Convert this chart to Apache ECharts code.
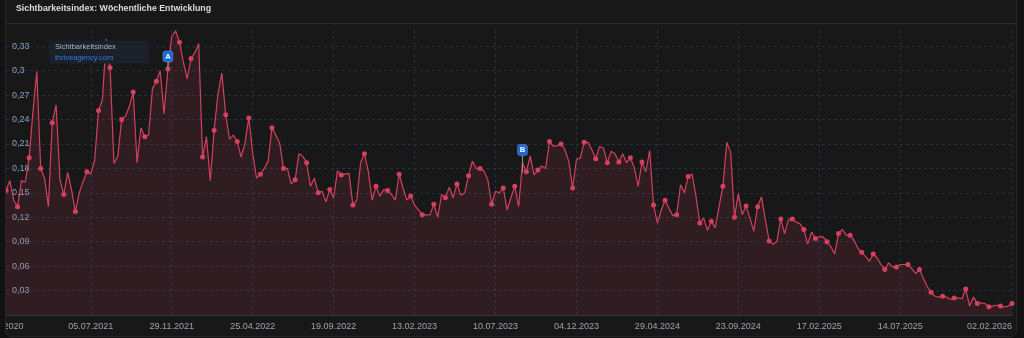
<!DOCTYPE html>
<html><head><meta charset="utf-8">
<script src="https://cdn.jsdelivr.net/npm/echarts@6/dist/echarts.min.js"></script>
<style>
html,body{margin:0;padding:0;background:#121212;width:1024px;height:338px;overflow:hidden;}
#panel{position:absolute;left:5px;top:-6px;width:1010px;height:341px;border:1px solid #262626;border-radius:6px;background:#181818;overflow:hidden;}
#chart{width:1010px;height:341px;}
</style></head><body><div id="panel"><div id="chart"></div></div>
<script>
// ---- data ----
const firstCategory = '28.12.2020';
const weeklyStart = '2021-02-08';
const seg2021 = [0.153,0.165,0.141,0.133,0.165,0.163,0.193,0.25,0.299,0.180,0.168,0.133,0.236,0.258,0.166,0.148,0.175,0.154,0.127,0.150,0.164,0.176,0.173,0.190,0.251,0.264,0.339,0.304,0.186,0.195,0.240,0.244,0.256,0.274,0.187,0.230,0.219,0.221,0.278,0.287,0.300,0.247,0.302,0.342,0.349,0.335,0.311,0.290];
const seg2022 = [0.315,0.322,0.333,0.194,0.219,0.165,0.227,0.272,0.297,0.246,0.216,0.221,0.213,0.194,0.211,0.242,0.199,0.168,0.173,0.180,0.189,0.230,0.221,0.211,0.180,0.180,0.161,0.166,0.198,0.195,0.187,0.158,0.168,0.150,0.152,0.139,0.154,0.144,0.177,0.172,0.173,0.174,0.135,0.141,0.187,0.198,0.176,0.141,0.158,0.146,0.154,0.153];
const seg2023 = [0.148,0.141,0.173,0.156,0.141,0.146,0.135,0.129,0.123,0.123,0.123,0.136,0.120,0.148,0.144,0.157,0.144,0.161,0.147,0.150,0.171,0.189,0.180,0.180,0.177,0.166,0.136,0.152,0.150,0.156,0.129,0.144,0.158,0.133,0.187,0.176,0.195,0.172,0.178,0.183,0.180,0.213,0.207,0.208,0.210,0.203,0.189,0.156,0.191,0.193,0.212,0.212];
const seg2024 = [0.203,0.192,0.207,0.205,0.187,0.201,0.198,0.188,0.198,0.187,0.193,0.181,0.158,0.188,0.176,0.202,0.135,0.113,0.129,0.141,0.131,0.122,0.123,0.160,0.150,0.170,0.173,0.146,0.113,0.119,0.104,0.115,0.107,0.133,0.158,0.212,0.200,0.120,0.149,0.123,0.134,0.119,0.103,0.133,0.145,0.117,0.091,0.087,0.090,0.118,0.100,0.117,0.118];
const seg2025 = [0.114,0.112,0.105,0.087,0.102,0.094,0.096,0.096,0.090,0.084,0.075,0.100,0.105,0.098,0.098,0.092,0.082,0.077,0.072,0.066,0.075,0.070,0.062,0.056,0.064,0.059,0.059,0.062,0.062,0.062,0.057,0.051,0.056,0.045,0.035,0.028,0.023,0.022,0.023,0.022,0.019,0.021,0.021,0.020,0.032,0.011,0.022,0.014,0.015,0.014,0.010,0.011];
const seg2026 = [0.012,0.011,0.010,0.011,0.014];
const tickLabels = ['28.12.2020','05.07.2021','29.11.2021','25.04.2022','19.09.2022','13.02.2023','10.07.2023','04.12.2023','29.04.2024','23.09.2024','17.02.2025','14.07.2025','02.02.2026'];
const markers = [{name:'A', index:42, value:0.302}, {name:'B', index:134, value:0.175}];
const seriesName = 'Sichtbarkeitsindex';
const sourceName = 'thriveagency.com';
const titleText = 'Sichtbarkeitsindex: Wöchentliche Entwicklung';

// ---- build ----
const values = [].concat(seg2021, seg2022, seg2023, seg2024, seg2025, seg2026);
function fmt(d){const p=n=>String(n).padStart(2,'0');return p(d.getUTCDate())+'.'+p(d.getUTCMonth()+1)+'.'+d.getUTCFullYear();}
const categories = [firstCategory];
const start = new Date(weeklyStart+'T00:00:00Z');
for (let i = 1; i < values.length; i++) {
  categories.push(fmt(new Date(start.getTime() + (i-1)*7*86400000)));
}
const labelIdx = tickLabels.map(t => categories.indexOf(t));
const poleLen = {A:7, B:17};
const lineColor = '#d4405e';
const gridColor = '#22314b';
const FONT = 'Liberation Sans, Arial, sans-serif';

const mpData = [];
markers.forEach(m => {
  const L = poleLen[m.name];
  mpData.push({name:'', coord:[m.index, m.value], symbol:'rect', symbolSize:[1, L], symbolOffset:[0, -L/2],
    itemStyle:{color:'#8d939c'}, label:{show:false}});
  mpData.push({name:m.name, coord:[m.index, m.value], symbol:'roundRect', symbolSize:[10, 11], symbolOffset:[0, -(L+5.5)],
    itemStyle:{color:'#1a68d6', borderColor:'rgba(150,190,255,0.5)', borderWidth:0.6},
    label:{show:true, position:'inside', formatter:m.name, color:'#ffffff', fontSize:7.5, fontWeight:'bold', fontFamily:FONT}});
});

const chart = echarts.init(document.getElementById('chart'), null, {renderer:'canvas'});
chart.setOption({
  animation:false,
  backgroundColor:'transparent',
  textStyle:{fontFamily:FONT},
  title:[
    {text:titleText, left:10, top:9, textStyle:{color:'#dcdcdc', fontSize:8.8, fontWeight:'bold', fontFamily:FONT}, padding:0},
    {text:'{a|'+seriesName+'}\n{b|'+sourceName+'}', left:43, top:44, padding:[2,33,2,6], backgroundColor:'#1b202b',
      textStyle:{fontWeight:'normal', rich:{a:{fontSize:7.5, fontWeight:'normal', color:'#aeb6c2', lineHeight:11, fontFamily:FONT}, b:{fontSize:7.5, fontWeight:'normal', color:'#2f7be0', lineHeight:11, fontFamily:FONT}}}}
  ],
  graphic:[{type:'line', silent:true, shape:{x1:0, y1:28.5, x2:1010, y2:28.5}, style:{stroke:'#2a2a2a', lineWidth:1}}],
  grid:{left:0, right:4, top:35, bottom:21, containLabel:false, outerBoundsMode:'none'},
  xAxis:{
    type:'category', data:categories, boundaryGap:false,
    axisTick:{show:false},
    axisLine:{show:true, lineStyle:{color:'#393244', width:1}},
    axisLabel:{
      interval:(i)=>labelIdx.includes(i), color:'#9ca4b0', fontSize:9, margin:7,
      alignMaxLabel:'right',
      formatter:(v,i)=> i===0 ? '{first|'+v+'}' : v,
      rich:{first:{padding:[0,10,0,0], color:'#9ca4b0', fontSize:9}}
    },
    splitLine:{show:true, interval:(i)=>i!==0 && labelIdx.includes(i), lineStyle:{color:gridColor, type:[3,3], width:1}}
  },
  yAxis:{
    type:'value', min:0, max:0.35, interval:0.03,
    axisLine:{show:false}, axisTick:{show:false},
    axisLabel:{inside:true, margin:6, color:'#8fa2bf', fontSize:9, showMinLabel:false, showMaxLabel:false,
      formatter:v=>String(parseFloat(v.toFixed(2))).replace('.',',')},
    splitLine:{show:true, showMinLine:false, showMaxLine:false, lineStyle:{color:gridColor, type:[3,3], width:1}}
  },
  series:[{
    name:seriesName, type:'line', data:values,
    symbol:'circle', showAllSymbol:true,
    symbolSize:(v,p)=> (p.dataIndex % 3 === 0 ? 5 : 0),
    lineStyle:{color:lineColor, width:1.2},
    itemStyle:{color:lineColor},
    areaStyle:{color:'rgba(212,64,94,0.18)'},
    markPoint:{silent:true, data:mpData}
  }]
});
</script></body></html>
